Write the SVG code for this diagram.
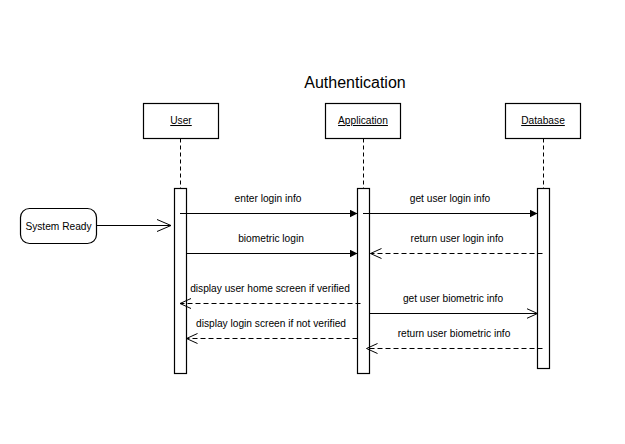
<svg xmlns="http://www.w3.org/2000/svg" width="625" height="444" viewBox="0 0 625 444">
<defs>
<style>
text{font-family:"Liberation Sans",Arial,sans-serif;fill:#000}
.t{font-size:10.2px;text-anchor:middle}
.h{font-size:16px;text-anchor:middle}
.u{text-decoration:underline}
.box{fill:#fff;stroke:#000;stroke-width:1.2}
.life{stroke:#000;stroke-width:1;stroke-dasharray:4 3;fill:none}
.msg{stroke:#000;stroke-width:1;fill:none}
.ret{stroke:#000;stroke-width:1;fill:none;stroke-dasharray:5 3}
</style>
<marker id="fill" viewBox="0 0 8 8" refX="8" refY="4" markerWidth="8" markerHeight="8" markerUnits="userSpaceOnUse" orient="auto">
<path d="M0,0 L8,4 L0,8 Z" fill="#000"/>
</marker>
<marker id="open" viewBox="0 0 12 12" refX="11" refY="6" markerWidth="12" markerHeight="12" markerUnits="userSpaceOnUse" orient="auto">
<path d="M0,1 L11,6 L0,11" fill="none" stroke="#000" stroke-width="1"/>
</marker>
<marker id="openL" viewBox="0 0 16 14" refX="15" refY="7" markerWidth="16" markerHeight="14" markerUnits="userSpaceOnUse" orient="auto">
<path d="M1,1 L15,7 L1,13" fill="none" stroke="#000" stroke-width="1"/>
</marker>
</defs>
<rect width="625" height="444" fill="#fff"/>
<text class="h" x="355" y="88">Authentication</text>

<g id="user">
<rect class="box" x="143.5" y="103.5" width="75" height="35"/>
<text class="t u" x="181" y="124">User</text>
<line class="life" x1="180.5" y1="138.5" x2="180.5" y2="188"/>
<rect class="box" x="174.5" y="188.5" width="12" height="185"/>
</g>

<g id="application">
<rect class="box" x="325.5" y="103.5" width="75" height="35"/>
<text class="t u" x="363" y="124">Application</text>
<line class="life" x1="363.5" y1="138.5" x2="363.5" y2="188"/>
<rect class="box" x="357.5" y="188.5" width="12" height="185"/>
</g>

<g id="database">
<rect class="box" x="505.5" y="103.5" width="75" height="35"/>
<text class="t u" x="543" y="124">Database</text>
<line class="life" x1="543.5" y1="138.5" x2="543.5" y2="188"/>
<rect class="box" x="537.5" y="188.5" width="12" height="180"/>
</g>

<g id="system-ready">
<rect class="box" x="20.5" y="208.5" width="76" height="35" rx="9"/>
<text class="t" x="58.5" y="229.5">System Ready</text>
</g>

<g id="connectors">
<line class="msg" x1="96.5" y1="225.5" x2="171" y2="225.5" marker-end="url(#openL)"/>
<line class="msg" x1="180" y1="213.5" x2="357.5" y2="213.5" marker-end="url(#fill)"/>
<text class="t" x="268" y="202">enter login info</text>
<line class="msg" x1="363" y1="213.5" x2="537.5" y2="213.5" marker-end="url(#fill)"/>
<text class="t" x="450" y="202">get user login info</text>
<line class="msg" x1="186.5" y1="253.5" x2="357.5" y2="253.5" marker-end="url(#fill)"/>
<text class="t" x="271" y="242">biometric login</text>
<line class="ret" x1="542.5" y1="253.5" x2="370.5" y2="253.5" marker-end="url(#open)"/>
<text class="t" x="457" y="242">return user login info</text>
<line class="ret" x1="360.5" y1="303.5" x2="180" y2="303.5" marker-end="url(#open)"/>
<text class="t" x="270" y="292">display user home screen if verified</text>
<line class="msg" x1="369.5" y1="313.5" x2="537.5" y2="313.5" marker-end="url(#open)"/>
<text class="t" x="453" y="302">get user biometric info</text>
<line class="ret" x1="357.5" y1="338.5" x2="186.5" y2="338.5" marker-end="url(#open)"/>
<text class="t" x="271" y="327">display login screen if not verified</text>
<line class="ret" x1="542.5" y1="348.5" x2="366.5" y2="348.5" marker-end="url(#open)"/>
<text class="t" x="454" y="337">return user biometric info</text>
</g>
</svg>
